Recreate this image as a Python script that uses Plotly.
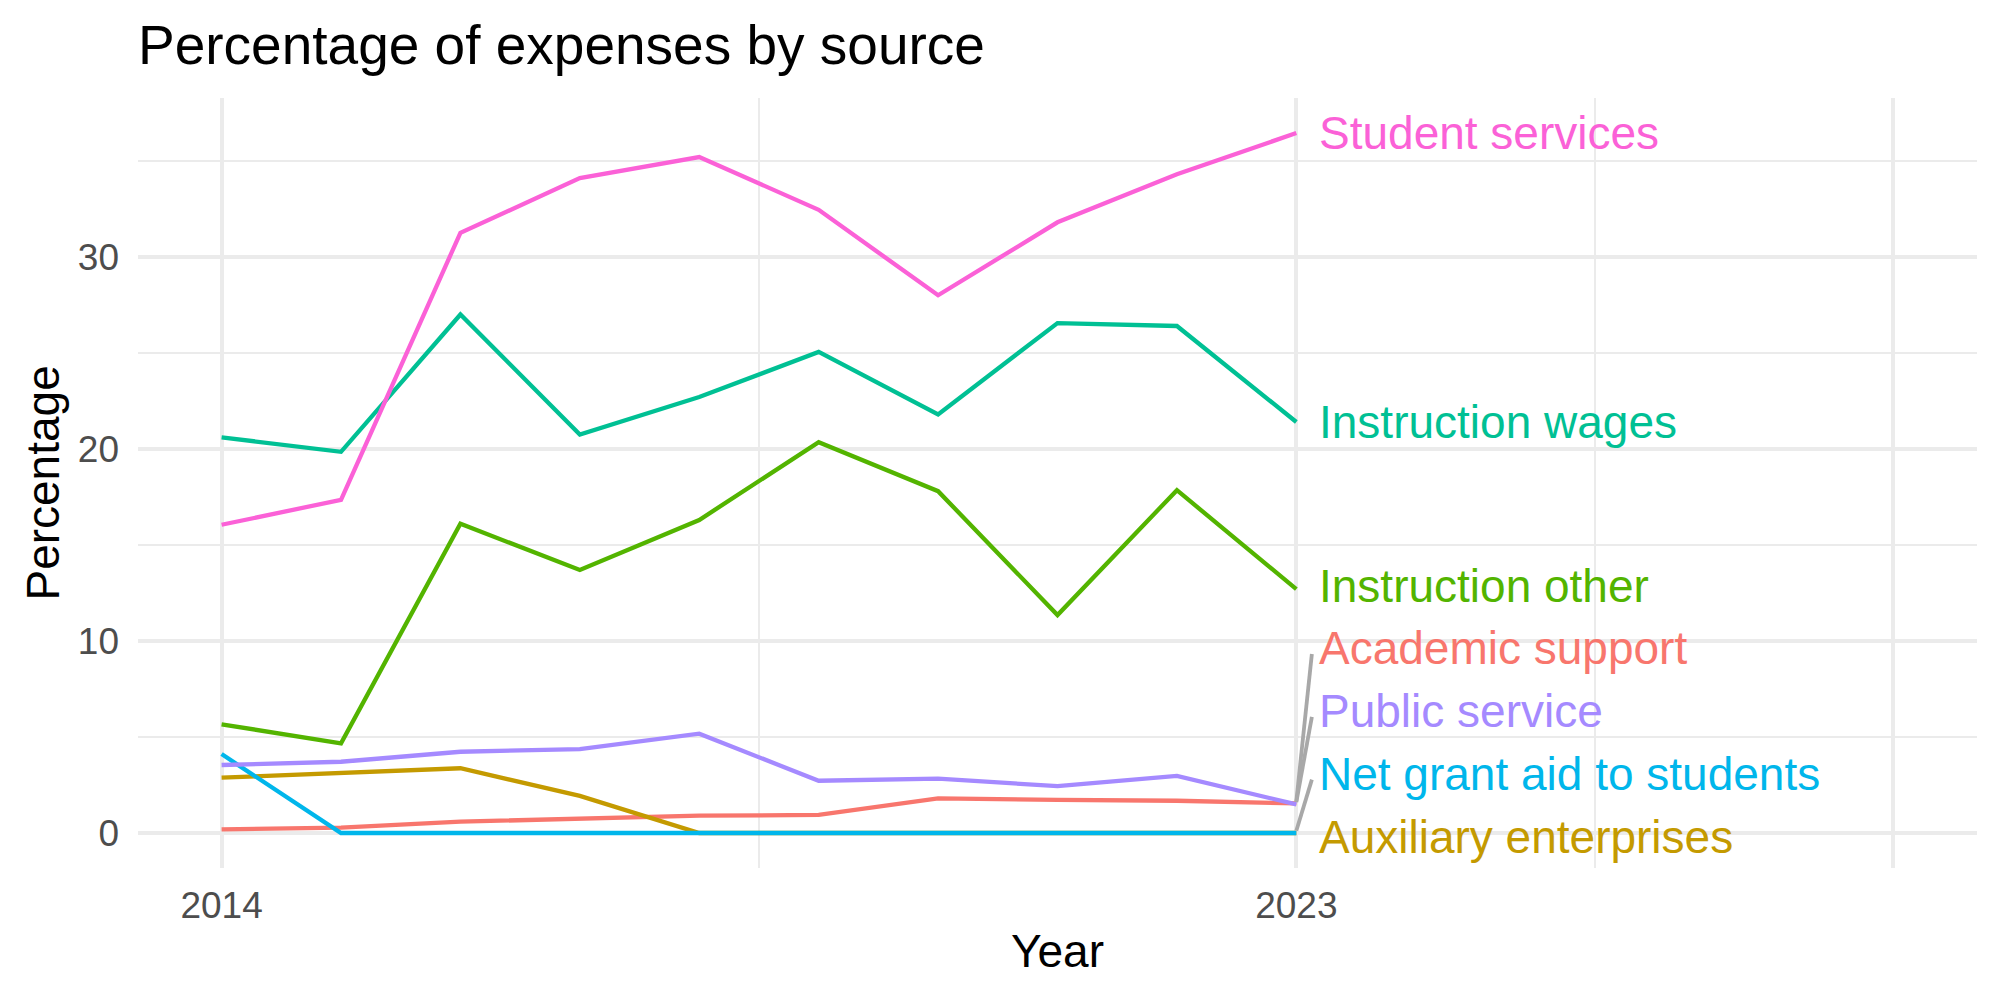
import plotly.graph_objects as go

# ---------------- data ----------------
years = [2014, 2015, 2016, 2017, 2018, 2019, 2020, 2021, 2022, 2023]

series_names = [
    "Academic support",
    "Auxiliary enterprises",
    "Instruction other",
    "Instruction wages",
    "Net grant aid to students",
    "Public service",
    "Student services",
]

academic_support = [0.19, 0.28, 0.59, 0.76, 0.90, 0.94, 1.80, 1.72, 1.68, 1.54]
auxiliary_enterprises = [2.88, 3.14, 3.37, 1.93, 0.0, 0.0, 0.0, 0.0, 0.0, 0.0]
instruction_other = [5.66, 4.67, 16.1, 13.7, 16.3, 20.35, 17.8, 11.35, 17.85, 12.7]
instruction_wages = [20.6, 19.85, 27.0, 20.75, 22.7, 25.05, 21.8, 26.55, 26.4, 21.4]
net_grant_aid = [4.11, 0.0, 0.0, 0.0, 0.0, 0.0, 0.0, 0.0, 0.0, 0.0]
public_service = [3.54, 3.71, 4.23, 4.37, 5.17, 2.72, 2.83, 2.44, 2.97, 1.49]
student_services = [16.05, 17.35, 31.25, 34.1, 35.2, 32.45, 28.0, 31.8, 34.3, 36.45]

series_values = [
    academic_support,
    auxiliary_enterprises,
    instruction_other,
    instruction_wages,
    net_grant_aid,
    public_service,
    student_services,
]

x_tick_vals = [2014, 2023, 2028]
x_tick_text = ["2014", "2023", ""]
x_minor_vals = [2018.5, 2025.5]
y_tick_vals = [0, 10, 20, 30]
y_tick_text = ["0", "10", "20", "30"]
y_minor_vals = [5, 15, 25, 35]

# ---------------- style ----------------
colors = ["#F8766D", "#C49A00", "#53B400", "#00C094", "#00B6EB", "#A58AFF", "#FB61D7"]
FONT = "Liberation Sans, Arial, Helvetica, sans-serif"
GRID = "#EBEBEB"

# axis ranges (ggplot-like 5% expansion)
x_lo, x_hi = 2014, 2028
x_pad = (x_hi - x_lo) * 0.05
y_max = max(max(v) for v in series_values)
y_min = 0
y_pad = (y_max - y_min) * 0.05
x_range = [x_lo - x_pad, x_hi + x_pad]
y_range = [y_min - y_pad, y_max + y_pad]

fig = go.Figure()

for name, vals, col in zip(series_names, series_values, colors):
    fig.add_trace(go.Scatter(
        x=years, y=vals, mode="lines", name=name,
        line=dict(color=col, width=4.3), hoverinfo="skip", showlegend=False,
    ))

# ---------------- simple label repel ----------------
last_vals = [v[-1] for v in series_values]
half_h = 1.63   # half label height in data units
gap = 3.27      # minimum distance between label centres
floor = y_range[0] + half_h
ceil = y_range[1] - half_h
order = sorted(range(len(series_names)), key=lambda i: (last_vals[i], series_names[i]))
pos = {i: min(max(last_vals[i], floor), ceil) for i in order}
for _ in range(2000):
    for a, b in zip(order[:-1], order[1:]):
        d = pos[b] - pos[a]
        if d < gap:
            push = (gap - d) / 2
            pos[a] -= push
            pos[b] += push
    for i in order:
        pos[i] = min(max(pos[i], floor), ceil)

label_x = years[-1] + 0.172
seg_end_x = years[-1] + 0.13

for i in order:
    ly = pos[i]
    lv = last_vals[i]
    if abs(ly - lv) > 1.0:
        sgn = 1 if ly > lv else -1
        fig.add_trace(go.Scatter(
            x=[years[-1], seg_end_x], y=[lv + sgn * 0.12, ly - sgn * 0.3],
            mode="lines", line=dict(color="#A8A8A8", width=3.8),
            hoverinfo="skip", showlegend=False,
        ))
    fig.add_annotation(
        x=label_x, y=ly, xref="x", yref="y", text=series_names[i],
        showarrow=False, xanchor="left", yanchor="middle",
        font=dict(family=FONT, size=46, color=colors[i]),
    )

# ---------------- titles ----------------
fig.add_annotation(
    x=-0.001, y=1.0688, xref="paper", yref="paper",
    text="Percentage of expenses by source", showarrow=False,
    xanchor="left", yanchor="middle",
    font=dict(family=FONT, size=55, color="black"),
)
fig.add_annotation(
    x=0.5, y=-0.1078, xref="paper", yref="paper", text="Year",
    showarrow=False, xanchor="center", yanchor="middle",
    font=dict(family=FONT, size=46, color="black"),
)
fig.add_annotation(
    x=-0.0519, y=0.5, xref="paper", yref="paper", text="Percentage",
    showarrow=False, xanchor="center", yanchor="middle", textangle=-90,
    font=dict(family=FONT, size=46, color="black"),
)

fig.update_layout(
    width=2000, height=1000, autosize=False,
    margin=dict(l=138, r=23, t=98, b=132, pad=0),
    paper_bgcolor="white", plot_bgcolor="white",
    font=dict(family=FONT, color="#4D4D4D"),
    xaxis=dict(
        range=x_range, tickmode="array", tickvals=x_tick_vals, ticktext=x_tick_text,
        showgrid=True, gridcolor=GRID, gridwidth=4.2, zeroline=False, showline=False,
        ticks="", ticklabelstandoff=12,
        tickfont=dict(family=FONT, size=37, color="#4D4D4D"),
        minor=dict(tickvals=x_minor_vals, showgrid=True, gridcolor=GRID, gridwidth=2.2, ticks=""),
    ),
    yaxis=dict(
        range=y_range, tickmode="array", tickvals=y_tick_vals, ticktext=y_tick_text,
        showgrid=True, gridcolor=GRID, gridwidth=4.2, zeroline=False, showline=False,
        ticks="", ticklabelstandoff=18,
        tickfont=dict(family=FONT, size=37, color="#4D4D4D"),
        minor=dict(tickvals=y_minor_vals, showgrid=True, gridcolor=GRID, gridwidth=2.2, ticks=""),
    ),
)

fig.write_html("out.html")
